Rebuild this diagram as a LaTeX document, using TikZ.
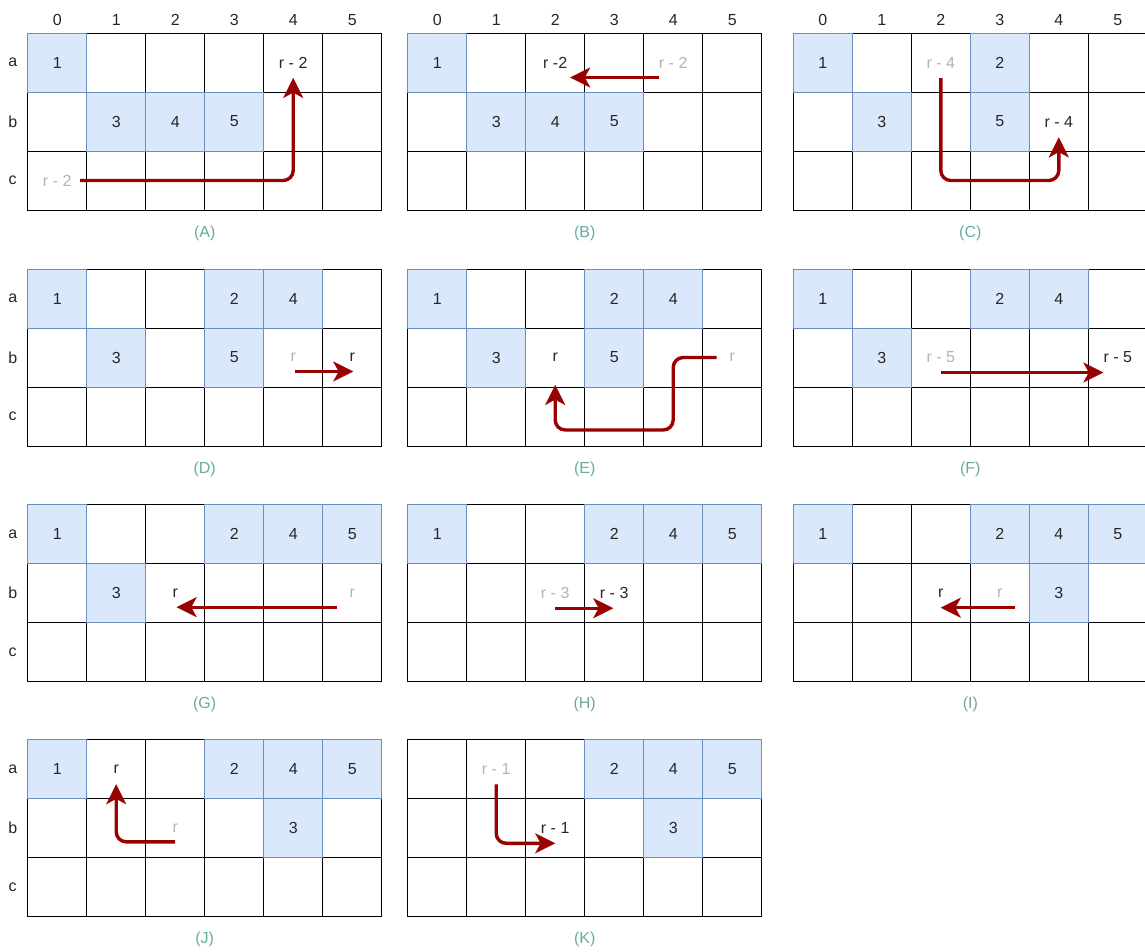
\documentclass[tikz,border=0pt]{standalone}
\usepackage{fontspec}
\setmainfont{Liberation Sans}
\usetikzlibrary{calc,arrows.meta}
\definecolor{bluefill}{HTML}{DAE8FC}
\definecolor{bluebd}{HTML}{6C8EBF}
\definecolor{arrowc}{HTML}{990000}
\definecolor{graytxt}{HTML}{B3B3B3}
\definecolor{capc}{HTML}{67AB9F}
\newcommand{\fs}{\fontsize{16}{19}\selectfont}
\tikzset{
  gcell/.style={draw=black, line width=1pt, fill=white, minimum width=59pt, minimum height=59pt, inner sep=0pt, outer sep=0pt},
  bcell/.style={gcell, draw=bluebd, fill=bluefill, font=\fs, text=black!85},
  txt/.style={font=\fs, text=black!85, inner sep=0pt},
  gtxt/.style={font=\fs, text=graytxt, inner sep=0pt},
  captxt/.style={font=\fs, text=capc, inner sep=0pt},
  movearrow/.style={draw=arrowc, line width=3.4pt, rounded corners=10pt,
    -{Stealth[length=20pt, width=20pt, inset=5.5pt, line width=0.1pt]}},
}
\newcommand{\gridpanel}[4]{%
  \foreach \i in {0,1,2}{\foreach \j in {0,...,5}{
    \node[gcell] (#1-\i-\j) at ({#2+59*\j+29.5},{#3+59*\i+29.5}) {};
  }}
  \node[captxt] (#1-cap) at ({#2+177},{#3+200}) {(#4)};
}
\newcommand{\bluecell}[4]{\node[bcell] (#1-#2-#3-b) at (#1-#2-#3) {#4};}
\newcommand{\celltxt}[5]{\node[#5] (#1-#2-#3-t) at (#1-#2-#3) {#4};}
\newcommand{\colheads}[1]{\foreach \j in {0,...,5}{\node[txt] (#1-h\j) at ($(#1-0-\j)+(0,-42.5)$) {\j};}}
\newcommand{\rowheads}[1]{%
  \node[txt] (#1-ra) at ($(#1-0-0)+(-44.5,0)$) {a};
  \node[txt] (#1-rb) at ($(#1-1-0)+(-44.5,0)$) {b};
  \node[txt] (#1-rc) at ($(#1-2-0)+(-44.5,0)$) {c};}
\begin{document}
\begin{tikzpicture}[x=1pt,y=-1pt]
\useasboundingbox (0,0) rectangle (1145,951);
% ---------- A ----------
\gridpanel{A}{27.7}{33}{A}
\bluecell{A}{0}{0}{1}\bluecell{A}{1}{1}{3}\bluecell{A}{1}{2}{4}\bluecell{A}{1}{3}{5}
\celltxt{A}{0}{4}{r - 2}{txt}\celltxt{A}{2}{0}{r - 2}{gtxt}
\colheads{A}\rowheads{A}
\coordinate (As) at ($(A-2-0)+(23,0)$);
\coordinate (At) at ($(A-0-4)+(0,15.5)$);
\draw[movearrow] (As) -| (At);
% ---------- B ----------
\gridpanel{B}{407.7}{33}{B}
\bluecell{B}{0}{0}{1}\bluecell{B}{1}{1}{3}\bluecell{B}{1}{2}{4}\bluecell{B}{1}{3}{5}
\celltxt{B}{0}{2}{r -2}{txt}\celltxt{B}{0}{4}{r - 2}{gtxt}
\colheads{B}
\coordinate (Bs) at ($(B-0-4)+(-14,15)$);
\coordinate (Bt) at ($(B-0-2)+(15,15)$);
\draw[movearrow] (Bs) -- (Bt);
% ---------- C ----------
\gridpanel{C}{793.3}{33}{C}
\bluecell{C}{0}{0}{1}\bluecell{C}{0}{3}{2}\bluecell{C}{1}{1}{3}\bluecell{C}{1}{3}{5}
\celltxt{C}{0}{2}{r - 4}{gtxt}\celltxt{C}{1}{4}{r - 4}{txt}
\colheads{C}
\coordinate (Cs) at ($(C-0-2)+(0,15.5)$);
\coordinate (Cb) at (C-2-4);
\coordinate (Ct) at ($(C-1-4)+(0,16)$);
\draw[movearrow] (Cs) |- (Cb) -- (Ct);
% ---------- D ----------
\gridpanel{D}{27.7}{269}{D}
\bluecell{D}{0}{0}{1}\bluecell{D}{0}{3}{2}\bluecell{D}{0}{4}{4}\bluecell{D}{1}{1}{3}\bluecell{D}{1}{3}{5}
\celltxt{D}{1}{4}{r}{gtxt}\celltxt{D}{1}{5}{r}{txt}
\rowheads{D}
\coordinate (Ds) at ($(D-1-4)+(2,14)$);
\coordinate (Dt) at ($(D-1-5)+(1,14)$);
\draw[movearrow] (Ds) -- (Dt);
% ---------- E ----------
\gridpanel{E}{407.7}{269}{E}
\bluecell{E}{0}{0}{1}\bluecell{E}{0}{3}{2}\bluecell{E}{0}{4}{4}\bluecell{E}{1}{1}{3}\bluecell{E}{1}{3}{5}
\celltxt{E}{1}{2}{r}{txt}\celltxt{E}{1}{5}{r}{gtxt}
\coordinate (Es) at ($(E-1-5)+(-15.5,0)$);
\coordinate (E1) at (E-1-4);
\coordinate (E2) at ($(E-2-4)+(0,13.5)$);
\coordinate (E3) at ($(E-2-2)+(0,13.5)$);
\coordinate (Et) at ($(E-1-2)+(0,27.5)$);
\draw[movearrow] (Es) -- (E1) -- (E2) -- (E3) -- (Et);
% ---------- F ----------
\gridpanel{F}{793.3}{269}{F}
\bluecell{F}{0}{0}{1}\bluecell{F}{0}{3}{2}\bluecell{F}{0}{4}{4}\bluecell{F}{1}{1}{3}
\celltxt{F}{1}{2}{r - 5}{gtxt}\celltxt{F}{1}{5}{r - 5}{txt}
\coordinate (Fs) at ($(F-1-2)+(0,15)$);
\coordinate (Ft) at ($(F-1-5)+(-14.5,15)$);
\draw[movearrow] (Fs) -- (Ft);
% ---------- G ----------
\gridpanel{G}{27.7}{504.7}{G}
\bluecell{G}{0}{0}{1}\bluecell{G}{0}{3}{2}\bluecell{G}{0}{4}{4}\bluecell{G}{0}{5}{5}\bluecell{G}{1}{1}{3}
\celltxt{G}{1}{2}{r}{txt}\celltxt{G}{1}{5}{r}{gtxt}
\rowheads{G}
\coordinate (Gs) at ($(G-1-5)+(-15,14)$);
\coordinate (Gt) at ($(G-1-2)+(1.5,14)$);
\draw[movearrow] (Gs) -- (Gt);
% ---------- H ----------
\gridpanel{H}{407.7}{504.7}{H}
\bluecell{H}{0}{0}{1}\bluecell{H}{0}{3}{2}\bluecell{H}{0}{4}{4}\bluecell{H}{0}{5}{5}
\celltxt{H}{1}{2}{r - 3}{gtxt}\celltxt{H}{1}{3}{r - 3}{txt}
\coordinate (Hs) at ($(H-1-2)+(0,15)$);
\coordinate (Ht) at ($(H-1-3)+(-1,15)$);
\draw[movearrow] (Hs) -- (Ht);
% ---------- I ----------
\gridpanel{I}{793.3}{504.7}{I}
\bluecell{I}{0}{0}{1}\bluecell{I}{0}{3}{2}\bluecell{I}{0}{4}{4}\bluecell{I}{0}{5}{5}\bluecell{I}{1}{4}{3}
\celltxt{I}{1}{2}{r}{txt}\celltxt{I}{1}{3}{r}{gtxt}
\coordinate (Is) at ($(I-1-3)+(15,14.5)$);
\coordinate (It) at ($(I-1-2)+(0,14.5)$);
\draw[movearrow] (Is) -- (It);
% ---------- J ----------
\gridpanel{J}{27.7}{739.3}{J}
\bluecell{J}{0}{0}{1}\bluecell{J}{0}{3}{2}\bluecell{J}{0}{4}{4}\bluecell{J}{0}{5}{5}\bluecell{J}{1}{4}{3}
\celltxt{J}{0}{1}{r}{txt}\celltxt{J}{1}{2}{r}{gtxt}
\rowheads{J}
\coordinate (Js) at ($(J-1-2)+(0,14)$);
\coordinate (Jt) at ($(J-0-1)+(0,15.5)$);
\draw[movearrow] (Js) -| (Jt);
% ---------- K ----------
\gridpanel{K}{407.7}{739.3}{K}
\bluecell{K}{0}{3}{2}\bluecell{K}{0}{4}{4}\bluecell{K}{0}{5}{5}\bluecell{K}{1}{4}{3}
\celltxt{K}{0}{1}{r - 1}{gtxt}\celltxt{K}{1}{2}{r - 1}{txt}
\coordinate (Ks) at ($(K-0-1)+(0,15.5)$);
\coordinate (Kt) at ($(K-1-2)+(0,15.5)$);
\draw[movearrow] (Ks) |- (Kt);
\end{tikzpicture}
\end{document}
